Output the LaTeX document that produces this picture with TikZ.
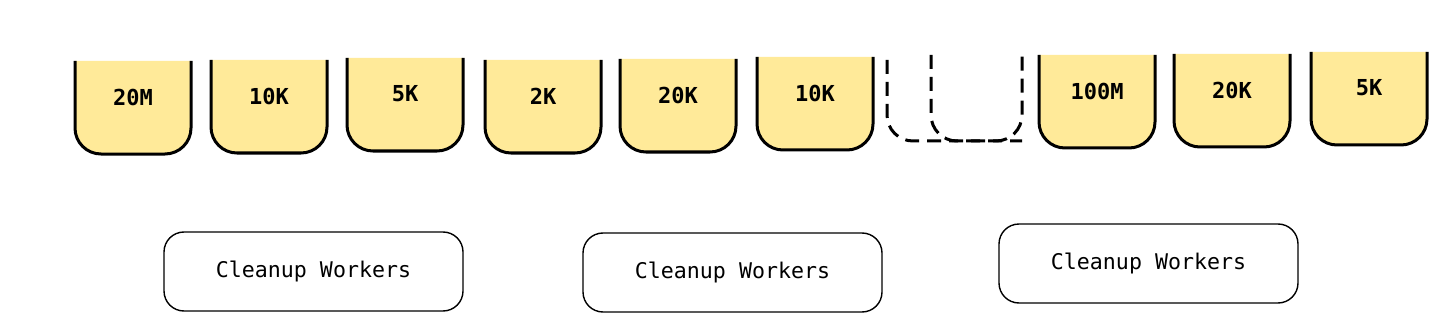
\documentclass[tikz,border=0pt]{standalone}
\usepackage{fontspec}
\newfontfamily\sketchfont{DejaVu Sans Mono}
\usetikzlibrary{backgrounds}
\definecolor{cellYellow}{RGB}{255,234,153}

\begin{document}
\begin{tikzpicture}[
    x=0.5pt, y=-0.5pt,
    % Styles
    cell/.style={
        font=\sketchfont\bfseries\fontsize{11}{12}\selectfont,
        inner sep=0pt
    },
    cellline/.style={
        draw=black,
        line width=1.5pt,
        fill=cellYellow,
        rounded corners=13pt
    },
    ghostline/.style={
        draw=black,
        line width=1.5pt,
        dash pattern=on 7pt off 4pt,
        rounded corners=13pt
    },
    worker/.style={
        draw=black,
        line width=0.7pt,
        rounded corners=10pt,
        minimum width=149.5pt,
        minimum height=39.5pt,
        font=\sketchfont\fontsize{10.8}{12}\selectfont
    }
]
    \useasboundingbox (0,0) rectangle (1456,326);

    % ---------------------------------------------------------
    % TOP ROW: VALUE CELLS
    % ---------------------------------------------------------
    \node[cell] (c1) at (133,97) {20M};
    \node[cell] (c2) at (269,96) {10K};
    \node[cell] (c3) at (405,94) {5K};
    \node[cell] (c4) at (543,96) {2K};
    \node[cell] (c5) at (678,95) {20K};
    \node[cell] (c6) at (815,93) {10K};
    \node[cell] (c7) at (1097,91) {100M};
    \node[cell] (c8) at (1232,90) {20K};
    \node[cell] (c9) at (1369,88) {5K};

    % open-top outlines behind the labels
    \begin{scope}[on background layer]
        \foreach \c in {c1,c2,c3,c4,c5,c6,c7,c8,c9}
            \path[cellline] ([shift={(-58,-36)}]\c.center) -- ([shift={(-58,57)}]\c.center)
                -- ([shift={(58,57)}]\c.center) -- ([shift={(58,-36)}]\c.center);
    \end{scope}

    % empty (dashed) slots
    \coordinate (slotA) at (887,60);
    \coordinate (slotB) at (931,55);
    \coordinate (slotEnd) at (1022,141);
    \draw[ghostline] (slotA) -- (slotA |- slotEnd) -- (slotEnd) -- (slotEnd |- slotB);
    \draw[ghostline] (slotB) -- (slotB |- slotEnd) -- (slotEnd);

    % ---------------------------------------------------------
    % BOTTOM ROW: CLEANUP WORKERS
    % ---------------------------------------------------------
    \node[worker] (w1) at (313.5,271.5) {Cleanup Workers};
    \node[worker] (w2) at (732.5,272.5) {Cleanup Workers};
    \node[worker] (w3) at (1148.5,263.5) {Cleanup Workers};

\end{tikzpicture}
\end{document}
